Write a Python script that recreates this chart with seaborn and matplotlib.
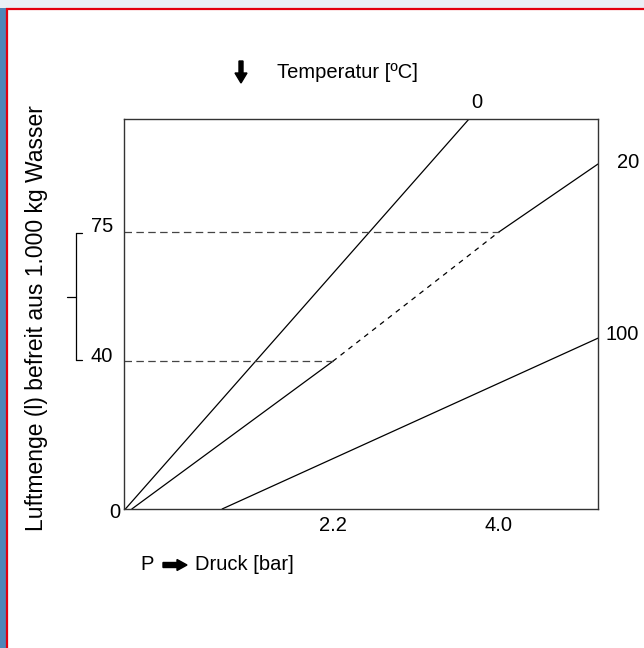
import matplotlib
matplotlib.use("Agg")
import matplotlib.pyplot as plt
from matplotlib.patches import FancyArrow, Rectangle
import seaborn as sns

# --- Daten ---
temperaturen = ["0", "20", "100"]
druck_0 = [-0.05, 3.68]
luft_0 = [0, 105.7]
druck_20 = [0.02, 2.2, 4.0, 5.08]
luft_20 = [0, 40, 75, 93.5]
druck_100 = [1.0, 5.08]
luft_100 = [0, 46.3]
ref_druck = [2.2, 4.0]
ref_luft = [40, 75]
druck_ticks = ["2.2", "4.0"]
luft_ticks = ["40", "75"]

W, H = 644, 648


def fx(px):
    return px / W


def fy(py):
    return 1 - py / H


sns.set_style("white")
plt.rcParams['font.family'] = ['Liberation Sans', 'DejaVu Sans']
plt.rcParams['text.color'] = 'black'
plt.rcParams['xtick.color'] = 'black'
FS = 14.5

fig = plt.figure(figsize=(W / 100, H / 100), dpi=100)

# Hintergrund / roter Rahmen
fig.patches.append(Rectangle((0, 0), fx(7), 1, transform=fig.transFigure,
                             facecolor='#4f86b8', edgecolor='none', zorder=0))
fig.patches.append(Rectangle((0, fy(8)), 1, 8 / H, transform=fig.transFigure,
                             facecolor='#eaf0f6', edgecolor='none', zorder=0))
fig.patches.append(Rectangle((fx(7), -0.01), 1, fy(9) + 0.01, transform=fig.transFigure,
                             facecolor='white', edgecolor='#e3000f', lw=1.6, zorder=0.5))

ax = fig.add_axes([fx(124), fy(509), fx(598) - fx(124), (509 - 119) / H])
ax.set_zorder(2)
ax.patch.set_alpha(0)

kw = dict(ax=ax, color='black', lw=0.9, sort=False, estimator=None, legend=False)
sns.lineplot(x=druck_0, y=luft_0, **kw)
sns.lineplot(x=druck_20[:2], y=luft_20[:2], **kw)
sns.lineplot(x=druck_20[1:3], y=luft_20[1:3], linestyle=(0, (4, 4)), **kw)
sns.lineplot(x=druck_20[2:], y=luft_20[2:], **kw)
sns.lineplot(x=druck_100, y=luft_100, **kw)

# gestrichelte Hilfslinien
x0 = -0.065
for d, l in zip(ref_druck, ref_luft):
    ax.plot([x0, d], [l, l], color='#444444', lw=0.9, linestyle=(0, (6, 3.5)))

ax.set_xlim(x0, 5.08)
ax.set_ylim(0, 105.7)
ax.set_xticks(ref_druck)
ax.set_xticklabels(druck_ticks, fontsize=FS)
ax.set_yticks([])
ax.tick_params(axis='x', length=0, pad=5)
for s in ax.spines.values():
    s.set_visible(True)
    s.set_color('#333333')
    s.set_linewidth(1.0)

# Beschriftungen der Temperaturlinien
for t, (px, py) in zip(temperaturen, [(477, 103), (628, 163), (622, 335)]):
    fig.text(fx(px), fy(py), t, fontsize=FS, ha='center', va='center')

# y-Werte mit Klammer
fig.text(fx(115), fy(512), "0", fontsize=FS, ha='center', va='center')
for t, py in zip(luft_ticks, [356, 227]):
    fig.text(fx(102), fy(py), t, fontsize=FS, ha='center', va='center')
bx = fx(76)
for xs, ys in [([bx, bx], [233, 360]), ([bx, fx(82)], [233, 233]),
               ([bx, fx(82)], [360, 360]), ([fx(67), bx], [297, 297])]:
    fig.add_artist(plt.Line2D(xs, [fy(v) for v in ys], transform=fig.transFigure,
                              color='black', lw=0.9, zorder=3))

# Achsentitel
fig.text(fx(37), fy(318), "Luftmenge (l) befreit aus 1.000 kg Wasser", rotation=90,
         fontsize=16.5, ha='center', va='center')
fig.text(fx(277), fy(73), "Temperatur [ºC]", fontsize=FS, ha='left', va='center')
fig.add_artist(FancyArrow(fx(241), fy(61), 0, -(83 - 61 - 10) / H, width=4 / W, head_width=12 / W,
                          head_length=10 / H, transform=fig.transFigure,
                          color='black', zorder=5))
fig.text(fx(140), fy(565), "P", fontsize=FS, ha='left', va='center')
fig.add_artist(FancyArrow(fx(163), fy(565), 14 / W, 0, width=5 / H, head_width=11 / H,
                          head_length=10 / W, transform=fig.transFigure, color='black', zorder=5))
fig.text(fx(195), fy(565), "Druck [bar]", fontsize=FS, ha='left', va='center')

fig.savefig("out.png", dpi=100)
